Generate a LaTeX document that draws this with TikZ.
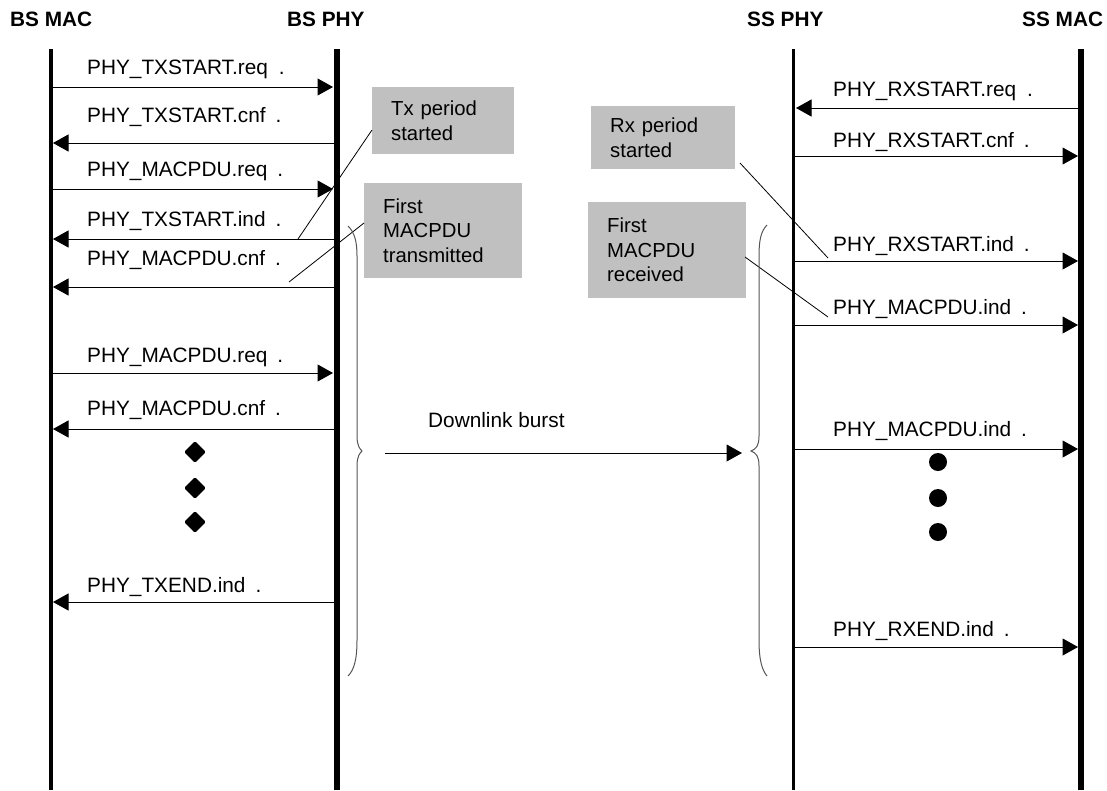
\documentclass[tikz,border=0pt]{standalone}
\usepackage{fontspec}
\setmainfont{Liberation Sans}
\usetikzlibrary{arrows.meta,shapes.geometric}

\definecolor{noteGray}{HTML}{C0C0C0}
\definecolor{braceGray}{HTML}{555555}

\tikzset{
  lifethin/.style={line width=3.4pt},
  lifethick/.style={line width=6pt},
  msg/.style={line width=1pt,-{Triangle[length=15.5pt,width=17pt]}},
  lbl/.style={anchor=base west,inner sep=0pt,font=\fontsize{20.8}{24}\selectfont},
  hdr/.style={anchor=base west,inner sep=0pt,font=\bfseries\fontsize{20.8}{24}\selectfont},
  note/.style={fill=noteGray,anchor=north west,inner xsep=19pt,inner ysep=0pt,
    align=left,font=\fontsize{20.3}{24.5}\selectfont},
  leader/.style={line width=0.8pt},
  brace/.style={line width=1pt,draw=braceGray},
  ldot/.style={shape=diamond,fill=black,inner sep=0pt,minimum width=22pt,
    minimum height=22pt,rounded corners=1.5pt},
  rdot/.style={shape=circle,fill=black,inner sep=0pt,minimum size=18pt},
}

% one service primitive: name, from x, to x, y, label x, label baseline, label text
\newcommand\sigmsg[7]{%
  \coordinate (#1-a) at (#2,#4);
  \coordinate (#1-b) at (#3,#4);
  \draw[msg] (#1-a) -- (#1-b);
  \node[lbl] (#1-t) at (#5,#6) {#7};
}

\begin{document}
\begin{tikzpicture}[x=1pt,y=-1pt]
\useasboundingbox (0,0) rectangle (1107,790);

% entity headings
\node[hdr] (hBSMAC) at (10,26) {BS MAC};
\node[hdr] (hBSPHY) at (287,26) {BS PHY};
\node[hdr] (hSSPHY) at (747,26) {SS PHY};
\node[hdr] (hSSMAC) at (1022,26) {SS MAC};

% lifelines
\coordinate (bsmacT) at (51,49);   \coordinate (bsmacB) at (51,790);
\coordinate (bsphyT) at (336.5,49); \coordinate (bsphyB) at (336.5,790);
\coordinate (ssphyT) at (793.5,49); \coordinate (ssphyB) at (793.5,790);
\coordinate (ssmacT) at (1081,49);  \coordinate (ssmacB) at (1081,790);
\draw[lifethin]  (bsmacT) -- (bsmacB);
\draw[lifethick] (bsphyT) -- (bsphyB);
\draw[lifethin]  (ssphyT) -- (ssphyB);
\draw[lifethick] (ssmacT) -- (ssmacB);

% base station side
\sigmsg{m1}{51}{333}{87}{87}{74}{PHY\_TXSTART.req\hspace{11pt}.}
\sigmsg{m2}{336}{53}{143}{87}{122}{PHY\_TXSTART.cnf\hspace{10pt}.}
\sigmsg{m3}{51}{333}{189}{87}{176}{PHY\_MACPDU.req\hspace{10pt}.}
\sigmsg{m4}{336}{53}{239}{87}{226}{PHY\_TXSTART.ind\hspace{10pt}.}
\sigmsg{m5}{336}{53}{287}{87}{265}{PHY\_MACPDU.cnf\hspace{10pt}.}
\sigmsg{m6}{51}{333}{373}{87}{362}{PHY\_MACPDU.req\hspace{10pt}.}
\sigmsg{m7}{336}{53}{429}{87}{415}{PHY\_MACPDU.cnf\hspace{10pt}.}
\sigmsg{m8}{336}{53}{602}{87}{592}{PHY\_TXEND.ind\hspace{10pt}.}

% subscriber station side
\sigmsg{n1}{1081}{796}{108}{833}{96}{PHY\_RXSTART.req\hspace{11pt}.}
\sigmsg{n2}{793}{1078}{156}{833}{147}{PHY\_RXSTART.cnf\hspace{10pt}.}
\sigmsg{n3}{793}{1078}{261}{833}{251}{PHY\_RXSTART.ind\hspace{10pt}.}
\sigmsg{n4}{793}{1078}{325}{833}{314}{PHY\_MACPDU.ind\hspace{10pt}.}
\sigmsg{n5}{793}{1078}{449}{833}{436}{PHY\_MACPDU.ind\hspace{10pt}.}
\sigmsg{n6}{793}{1078}{647}{833}{636}{PHY\_RXEND.ind\hspace{10pt}.}

% continuation dots
\node[ldot] (ld1) at (195,452) {};
\node[ldot] (ld2) at (195,488) {};
\node[ldot] (ld3) at (195,522) {};
\node[rdot] (rd1) at (938,462) {};
\node[rdot] (rd2) at (938,498) {};
\node[rdot] (rd3) at (938,532) {};

% annotation boxes
\node[note,text width=104pt,minimum height=67pt] (txnote) at (372,87)
  {Tx period\\started};
\node[note,text width=120pt,minimum height=95pt] (txfirst) at (364,183)
  {First\\MACPDU\\transmitted};
\node[note,text width=106pt,minimum height=63pt] (rxnote) at (591,106)
  {Rx period\\started};
\node[note,text width=120pt,minimum height=96pt] (rxfirst) at (588,202)
  {First\\MACPDU\\received};

% leader lines from the boxes to the primitives
\coordinate (txnoteL) at (372,130);  \coordinate (txnoteE) at (298,239);
\coordinate (txfirstL) at (364,223); \coordinate (txfirstE) at (289,282);
\coordinate (rxnoteL) at (740,163);  \coordinate (rxnoteE) at (828,258);
\coordinate (rxfirstL) at (745,257); \coordinate (rxfirstE) at (828,317);
\draw[leader] (txnoteL) -- (txnoteE);
\draw[leader] (txfirstL) -- (txfirstE);
\draw[leader] (rxnoteL) -- (rxnoteE);
\draw[leader] (rxfirstL) -- (rxfirstE);

% burst braces
\draw[brace] (348,226) .. controls (354,232) and (357,240) .. (357,256)
  -- (357,436) .. controls (357,446) and (360,449) .. (362,451)
  .. controls (360,453) and (357,456) .. (357,466)
  -- (357,640) .. controls (357,660) and (354,670) .. (348,676);
\draw[brace] (767,225) .. controls (761,231) and (759,240) .. (759,256)
  -- (759,436) .. controls (759,446) and (756,449) .. (751,451)
  .. controls (756,453) and (759,456) .. (759,466)
  -- (759,640) .. controls (759,660) and (762,670) .. (767,676);

% downlink burst
\coordinate (dlA) at (385,453);
\coordinate (dlB) at (742,453);
\draw[msg] (dlA) -- (dlB);
\node[lbl] (dlT) at (428,427) {Downlink burst};
\end{tikzpicture}
\end{document}
